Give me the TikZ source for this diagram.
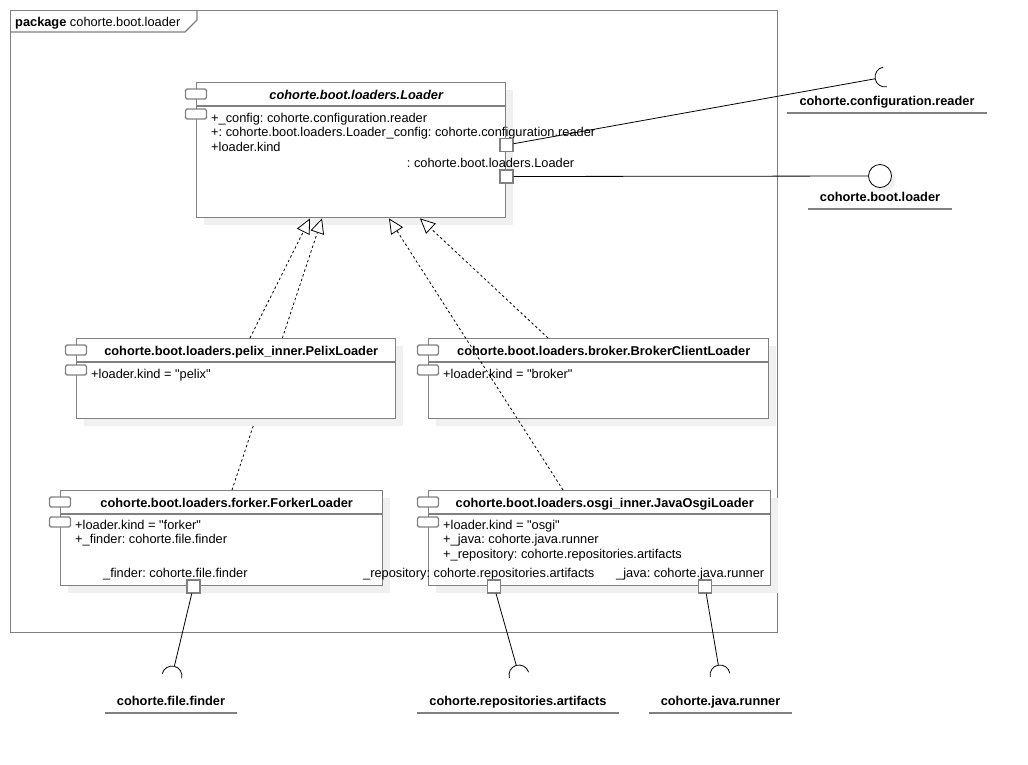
\documentclass[tikz,border=0pt]{standalone}
\usepackage{fontspec}
\setmainfont{Liberation Sans}
\usetikzlibrary{positioning,calc,shadows,arrows.meta}

\definecolor{umlgray}{HTML}{808080}
\definecolor{umlshadow}{HTML}{F0F0F0}

\tikzset{
  comp/.style={draw=umlgray, line width=1.4pt, fill=white, rectangle, anchor=north west, inner sep=0pt,
    general shadow={fill=umlshadow, shadow xshift=7pt, shadow yshift=-7pt}},
  icon/.style={draw=umlgray, line width=1.2pt, fill=white, rounded corners=1.5pt,
    minimum width=21pt, minimum height=10pt, inner sep=0pt},
  sepline/.style={draw=umlgray, line width=1.2pt},
  frameline/.style={draw=umlgray, line width=1.3pt},
  title/.style={font=\fontsize{12.8}{14.5}\selectfont\bfseries, inner sep=0pt, anchor=base},
  attr/.style={anchor=base west, inner sep=0pt},
  portlabel/.style={inner sep=0pt},
  portbox/.style={draw=umlgray, line width=1.2pt, fill=white, minimum size=13pt, inner sep=0pt},
  wire/.style={draw=black, line width=0.8pt},
  realize/.style={wire, dash pattern=on 2.5pt off 2.5pt, -{Triangle[length=15pt, width=14pt, fill=white]}},
  ball/.style={circle, draw=black, line width=0.8pt, fill=white, minimum size=23pt, inner sep=0pt,
    general shadow={fill=umlshadow, shadow xshift=4pt, shadow yshift=-4pt}},
  ifacelabel/.style={font=\fontsize{12.8}{14.5}\selectfont\bfseries, inner xsep=12pt, inner ysep=8pt,
    text depth=0pt, anchor=base},
  uline/.style={draw=umlgray, line width=1.6pt}
}

\begin{document}
\frenchspacing
\begin{tikzpicture}[x=1pt, y=-1pt, font=\fontsize{12.8}{14.5}\selectfont]
    \useasboundingbox (0,0) rectangle (1028,764);

    % package frame
    \node (pkg) [frameline, rectangle, anchor=north west, minimum width=767pt, minimum height=622pt, inner sep=0pt] at (10,10) {};
    \draw[frameline] (10,32) -- (185,32) -- (197,20) -- (197,10);
    \node (pkglabel) [anchor=base west, inner sep=0pt] at (15,26) {\textbf{package} cohorte.boot.loader};

    % components
    \node (loader) [comp, minimum width=309pt, minimum height=135pt] at (196,82) {};
    \node (forker) [comp, minimum width=322pt, minimum height=95pt] at (60,490) {};

    \draw[realize] ([xshift=172pt]forker.north west) -- ([xshift=126pt]loader.south west);

    \node (pelix) [comp, minimum width=319pt, minimum height=80pt] at (76,338) {};
    \node (broker) [comp, minimum width=340pt, minimum height=80pt] at (428,338) {};
    \node (osgi) [comp, minimum width=342pt, minimum height=95pt] at (428,490) {};

    \foreach \b in {loader,forker,pelix,broker,osgi} {
        \draw[sepline] ([yshift=-24pt]\b.north west) -- ([yshift=-24pt]\b.north east);
        \node (\b-icon1) [icon] at ([yshift=-12pt]\b.north west) {};
        \node (\b-icon2) [icon] at ([yshift=-32pt]\b.north west) {};
    }

    % titles
    \node (loader-title) [title, font=\fontsize{12.8}{14.5}\selectfont\bfseries\itshape] at ([xshift=5pt, yshift=-17pt]loader.north) {cohorte.boot.loaders.Loader};
    \node (pelix-title) [title] at ([xshift=5pt, yshift=-17pt]pelix.north) {cohorte.boot.loaders.pelix\_inner.PelixLoader};
    \node (broker-title) [title] at ([xshift=5pt, yshift=-17pt]broker.north) {cohorte.boot.loaders.broker.BrokerClientLoader};
    \node (forker-title) [title] at ([xshift=5pt, yshift=-17pt]forker.north) {cohorte.boot.loaders.forker.ForkerLoader};
    \node (osgi-title) [title] at ([xshift=5pt, yshift=-17pt]osgi.north) {cohorte.boot.loaders.osgi\_inner.JavaOsgiLoader};

    % attributes
    \node (loader-a1) [attr] at ([xshift=15pt, yshift=-40pt]loader.north west) {+\_config: cohorte.configuration.reader};
    \node (loader-a2) [attr] at ([yshift=-14.5pt]loader-a1.base west) {+: cohorte.boot.loaders.Loader};
    \node (loader-a3) [attr] at ([yshift=-14.5pt]loader-a2.base west) {+loader.kind};

    \node (pelix-a1) [attr] at ([xshift=15pt, yshift=-40pt]pelix.north west) {+loader.kind = \textquotedbl pelix\textquotedbl};
    \node (broker-a1) [attr] at ([xshift=15pt, yshift=-40pt]broker.north west) {+loader.kind = \textquotedbl broker\textquotedbl};

    \node (forker-a1) [attr] at ([xshift=15pt, yshift=-39pt]forker.north west) {+loader.kind = \textquotedbl forker\textquotedbl};
    \node (forker-a2) [attr] at ([yshift=-14.5pt]forker-a1.base west) {+\_finder: cohorte.file.finder};

    \node (osgi-a1) [attr] at ([xshift=15pt, yshift=-39pt]osgi.north west) {+loader.kind = \textquotedbl osgi\textquotedbl};
    \node (osgi-a2) [attr] at ([yshift=-14.5pt]osgi-a1.base west) {+\_java: cohorte.java.runner};
    \node (osgi-a3) [attr] at ([yshift=-14.5pt]osgi-a2.base west) {+\_repository: cohorte.repositories.artifacts};

    % port labels
    \node (cfgportlabel) [portlabel, anchor=base east] at ([xshift=89pt, yshift=-54.5pt]loader.north east) {\_config: cohorte.configuration.reader};
    \node (bootportlabel) [portlabel, anchor=base east] at ([xshift=68pt, yshift=-85pt]loader.north east) {: cohorte.boot.loaders.Loader};
    \node (finderportlabel) [portlabel, anchor=base west] at ([xshift=43pt, yshift=9pt]forker.south west) {\_finder: cohorte.file.finder};
    \node (repoportlabel) [portlabel, anchor=base west] at ([xshift=-65pt, yshift=9pt]osgi.south west) {\_repository: cohorte.repositories.artifacts};
    \node (javaportlabel) [portlabel, anchor=base west] at ([xshift=188pt, yshift=9pt]osgi.south west) {\_java: cohorte.java.runner};

    % ports
    \node (cfgport) [portbox] at ([yshift=-63pt]loader.north east) {};
    \node (bootport) [portbox] at ([yshift=-94.5pt]loader.north east) {};
    \node (finderport) [portbox] at ([xshift=133.5pt]forker.south west) {};
    \node (repoport) [portbox] at ([xshift=66pt]osgi.south west) {};
    \node (javaport) [portbox] at ([xshift=277pt]osgi.south west) {};

    % realizations
    \draw[realize] ([xshift=174pt]pelix.north west) -- ([xshift=114pt]loader.south west);
    \draw[realize] ([xshift=120pt]broker.north west) -- ([xshift=224pt]loader.south west);
    \draw[realize] ([xshift=135pt]osgi.north west) -- ([xshift=193pt]loader.south west);

    % provided and required interfaces
    \node (bootball) [ball] at (880,176) {};
    \coordinate (cfgsock) at (885,77);
    \coordinate (findersock) at (172,676);
    \coordinate (reposock) at (519,675);
    \coordinate (javasock) at (720,675);

    \draw[wire] (bootport) -- (bootball);
    \draw[wire, shorten >=10pt] (cfgport) -- (cfgsock);
    \draw[wire, shorten >=10pt] (finderport) -- (findersock);
    \draw[wire, shorten >=10pt] (repoport) -- (reposock);
    \draw[wire, shorten >=10pt] (javaport) -- (javasock);

    \draw[wire] (cfgsock) ++(100.2:10pt) arc[start angle=100.2, delta angle=180, radius=10pt];
    \draw[wire] (findersock) ++(-14:10pt) arc[start angle=-14, delta angle=180, radius=10pt];
    \draw[wire] (reposock) ++(16.8:10pt) arc[start angle=16.8, delta angle=180, radius=10pt];
    \draw[wire] (javasock) ++(10.2:10pt) arc[start angle=10.2, delta angle=180, radius=10pt];

    \node (cfglabel) [ifacelabel] at (887,105) {cohorte.configuration.reader};
    \node (bootlabel) [ifacelabel] at (880,201) {cohorte.boot.loader};
    \node (finderlabel) [ifacelabel] at (171,705) {cohorte.file.finder};
    \node (repolabel) [ifacelabel] at (518,705) {cohorte.repositories.artifacts};
    \node (javalabel) [ifacelabel] at (720.5,705) {cohorte.java.runner};

    \foreach \l in {cfglabel,bootlabel,finderlabel,repolabel,javalabel}
        \draw[uline] (\l.south west) -- (\l.south east);
\end{tikzpicture}
\end{document}
